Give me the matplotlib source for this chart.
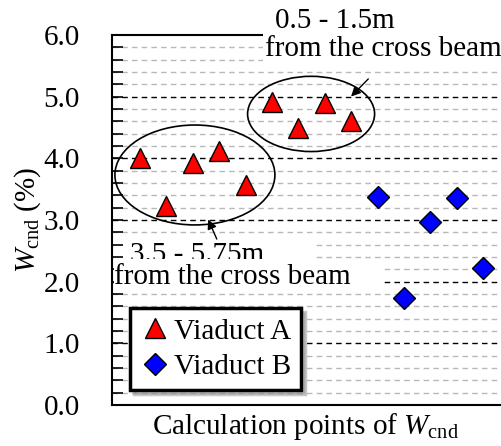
import matplotlib
matplotlib.use("Agg")
import numpy as np
import matplotlib.pyplot as plt
from matplotlib.patches import Ellipse, Rectangle
from matplotlib.ticker import MultipleLocator, NullLocator

plt.rcParams['font.family'] = ['Liberation Serif', 'DejaVu Serif']
plt.rcParams['mathtext.fontset'] = 'custom'
plt.rcParams['mathtext.rm'] = 'Liberation Serif'
plt.rcParams['mathtext.it'] = 'Liberation Serif:italic'

# Calculation points and W_cnd values (%)
points_a = [1, 2, 3, 4, 5, 6, 7, 8, 9]
wcnd_a = [4.0, 3.22, 3.92, 4.12, 3.56, 4.91, 4.49, 4.89, 4.6]
points_b = [10, 11, 12, 13, 14]
wcnd_b = [3.37, 1.73, 2.97, 3.35, 2.22]
series_labels = ["Viaduct A", "Viaduct B"]
y_ticks = [0.0, 1.0, 2.0, 3.0, 4.0, 5.0, 6.0]

FS = 21
W, H = 502, 446
fig = plt.figure(figsize=(W / 100, H / 100), dpi=100)
ax = fig.add_axes([112 / W, (H - 405) / H, (W - 112) / W, 370 / H])

ax.set_xlim(-0.06, 14.71)
ax.set_ylim(0, 6)

ax.yaxis.set_minor_locator(MultipleLocator(0.2))
ax.xaxis.set_major_locator(NullLocator())
ax.set_yticks(y_ticks)
ax.set_yticklabels([f"{v:.1f}" for v in y_ticks], fontsize=FS)
ax.tick_params(axis='y', which='both', direction='in', length=8, width=1.2,
               pad=23, colors='black')

# Horizontal dashed gridlines (black at whole percents, grey every 0.2)
for lvl in np.round(np.arange(0.2, 6.0, 0.2), 1):
    major = abs(lvl - round(lvl)) < 1e-6
    ax.axhline(lvl, color='black' if major else '#b8b8b8',
               linestyle=(0, (4, 3)), linewidth=1.0, zorder=0.5)

ax.spines['right'].set_visible(False)
for s in ('left', 'bottom', 'top'):
    ax.spines[s].set_linewidth(1.5)

ax.plot(points_a, wcnd_a, linestyle='none', marker='^', markersize=15,
        markerfacecolor='red', markeredgecolor='black', markeredgewidth=1.0,
        label=series_labels[0], zorder=5)
ax.plot(points_b, wcnd_b, linestyle='none', marker='D', markersize=11,
        markerfacecolor='#0000ff', markeredgecolor='black', markeredgewidth=1.0,
        label=series_labels[1], zorder=5)

# Groups of points near the cross beam
ax.add_patch(Ellipse((3.08, 3.73), 6.06, 1.62, fill=False, edgecolor='black',
                     linewidth=1.2, zorder=4))
ax.add_patch(Ellipse((7.48, 4.72), 4.81, 1.22, fill=False, edgecolor='black',
                     linewidth=1.2, zorder=4))

# Upper annotation with its white panel
ax.add_patch(Rectangle((5.66, 5.5), 9.2, 1.0, facecolor='white', edgecolor='none',
                       zorder=3, clip_on=False))
ax.text(6.1, 6.22, "0.5 - 1.5m", fontsize=FS, ha='left', va='center', zorder=6,
        clip_on=False)
ax.text(5.74, 5.78, "from the cross beam", fontsize=FS, ha='left', va='center',
        zorder=6, clip_on=False)

# Lower annotation: the second line's panel overlaps the foot of the first
ax.add_patch(Rectangle((0.0, 2.37), 7.55, 0.37, facecolor='white',
                       edgecolor='none', zorder=1))
ax.text(0.62, 2.32, "3.5 - 5.75m", fontsize=FS, ha='left', va='baseline',
        zorder=1.5)
ax.add_patch(Rectangle((0.0, 1.88), 10.2, 0.49, facecolor='white', edgecolor='none',
                       zorder=1.8))
ax.text(0.0, 1.96, "from the cross beam", fontsize=FS, ha='left', va='baseline',
        zorder=6)

ax.annotate("", xy=(8.92, 4.97), xytext=(9.72, 5.32),
            arrowprops=dict(arrowstyle='-|>', color='black', lw=1.0,
                            mutation_scale=14), zorder=7)
ax.annotate("", xy=(3.54, 3.05), xytext=(3.95, 2.65),
            arrowprops=dict(arrowstyle='-|>', color='black', lw=1.0,
                            mutation_scale=14), zorder=7)

leg = ax.legend(loc='upper left', bbox_to_anchor=(0.046, 0.262), fontsize=FS,
                frameon=True, fancybox=False, shadow={'ox': 3, 'oy': -3,
                                                      'color': '#909090'},
                handletextpad=0.12, borderpad=0.35, labelspacing=0.3,
                handlelength=1.03, borderaxespad=0)
leg.get_frame().set_edgecolor('black')
leg.get_frame().set_linewidth(2.5)
leg.set_zorder(8)

ax.set_ylabel(r"$W_{\rm cnd}$ (%)", fontsize=FS)
ax.yaxis.label.set_va('center')
ax.yaxis.set_label_coords((28 - 112) / (W - 112), 0.5)
ax.set_xlabel(r"Calculation points of $W_{\rm cnd}$", fontsize=FS)
ax.xaxis.label.set_va('center')
ax.xaxis.set_label_coords((305 - 112) / (W - 112), -(427 - 405) / 370)

fig.savefig("out.png", dpi=100)
